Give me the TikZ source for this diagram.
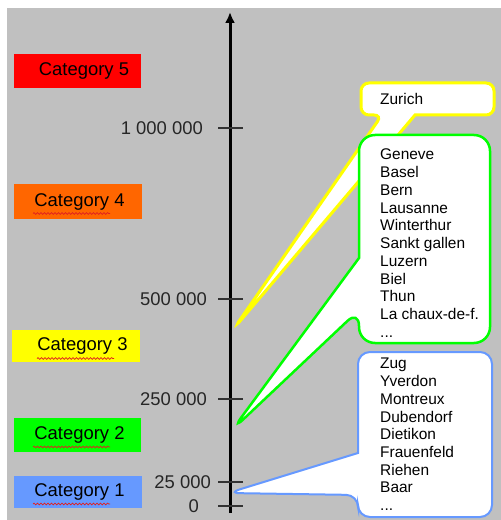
\documentclass[tikz,border=0pt]{standalone}
\usepackage{fontspec}
\setmainfont{Liberation Sans}
\usetikzlibrary{arrows.meta,decorations.pathmorphing}
\definecolor{bggray}{HTML}{C0C0C0}
\definecolor{catred}{HTML}{FF0000}
\definecolor{catorange}{HTML}{FF6600}
\definecolor{catyellow}{HTML}{FFFF00}
\definecolor{catgreen}{HTML}{00FF00}
\definecolor{catblue}{HTML}{6699FF}
\definecolor{tickgray}{HTML}{333333}
\definecolor{spellred}{HTML}{E02020}
\begin{document}
\begin{tikzpicture}[x=1bp,y=-1bp,
  catbox/.style={draw=none, minimum width=127bp, minimum height=34bp, inner sep=0pt, font=\fontsize{18.5}{22}\selectfont, text=black},
  ticklabel/.style={anchor=east, inner sep=0pt, font=\fontsize{18.5}{22}\selectfont, text=black!85},
  tickmark/.style={draw=tickgray, line width=1.3bp},
  bubble/.style={fill=white, line width=2.5bp, line join=miter, miter limit=25},
  squiggle/.style={draw=spellred, line width=0.7bp, decorate, decoration={snake, segment length=3.5bp, amplitude=0.9bp}},
  citytext/.style={anchor=north west, inner sep=0pt, align=left, font=\fontsize{15.5}{17.8}\selectfont, text=black}
]
\useasboundingbox (0,0) rectangle (501,520);
\fill[bggray] (7,8) rectangle (501,520);

% axis
\coordinate (axbot) at (230,513);
\coordinate (axtop) at (230,12);
\draw[line width=3bp, -{Latex[length=11bp,width=10bp]}] (axbot) -- (axtop);

% ticks
\coordinate (t1) at (230,128);
\coordinate (t2) at (230,299);
\coordinate (t3) at (230,399);
\coordinate (t4) at (230,482);
\coordinate (t5) at (230,506);
\foreach \t in {t1,t2,t3,t4,t5}{
  \draw[tickmark] ([xshift=-12bp]\t) -- ([xshift=13bp]\t);
}
\node[ticklabel] (l1) at (203,128) {1 000 000};
\node[ticklabel] (l2) at (207,299) {500 000};
\node[ticklabel] (l3) at (207,399) {250 000};
\node[ticklabel] (l4) at (211,482) {25 000};
\node[ticklabel] (l5) at (199,506) {0};

% categories
\node[catbox, fill=catred] (c5) at (77.5,71) {\hspace*{13bp}Category 5};
\node[catbox, fill=catorange] (c4) at (78,201.5) {\hspace*{3bp}Category 4};
\node[catbox, fill=catyellow, minimum height=32bp] (c3) at (76,346) {\hspace*{13bp}Category 3};
\node[catbox, fill=catgreen] (c2) at (77.5,434.5) {\hspace*{4bp}Category 2};
\node[catbox, fill=catblue, minimum height=32bp] (c1) at (78,492) {\hspace*{3bp}Category 1};
\draw[squiggle] (33,213.5) -- (110,213.5);
\draw[squiggle] (37,358.5) -- (114,358.5);
\draw[squiggle] (33,447) -- (110,447);
\draw[squiggle] (33,504) -- (110,504);

% bubbles
\coordinate (ytip) at (235,327);
\coordinate (gtip) at (232,430);
\coordinate (btip) at (228,493);
\draw[bubble, draw=catyellow, line width=3bp]
  (361,99) [rounded corners=8bp] -- (361,115) -- (382,115) -- (ytip) [sharp corners] -- (415,115) [rounded corners=8bp] -- (494,115) -- (494,83) -- (361,83) -- cycle;
\draw[bubble, draw=catgreen]
  (425,135) [rounded corners=16bp] -- (490,135) -- (490,343) -- (359,343) -- (359,310) -- (gtip) [sharp corners] -- (359,258) [rounded corners=16bp] -- (359,135) -- cycle;
\draw[bubble, draw=catblue, line width=2bp]
  (425,352) [rounded corners=12bp] -- (492,352) -- (492,517) -- (358,517) -- (358,495) -- (btip) [sharp corners] -- (358,453) [rounded corners=12bp] -- (358,352) -- cycle;

\node[citytext, anchor=west] (zur) at (380,99) {Zurich};
\node[citytext] (glist) at (380,149) {Geneve\\Basel\\Bern\\Lausanne\\Winterthur\\Sankt gallen\\Luzern\\Biel\\Thun\\La chaux-de-f.\\...};
\node[citytext] (blist) at (380,358) {Zug\\Yverdon\\Montreux\\Dubendorf\\Dietikon\\Frauenfeld\\Riehen\\Baar\\...};
\end{tikzpicture}
\end{document}
